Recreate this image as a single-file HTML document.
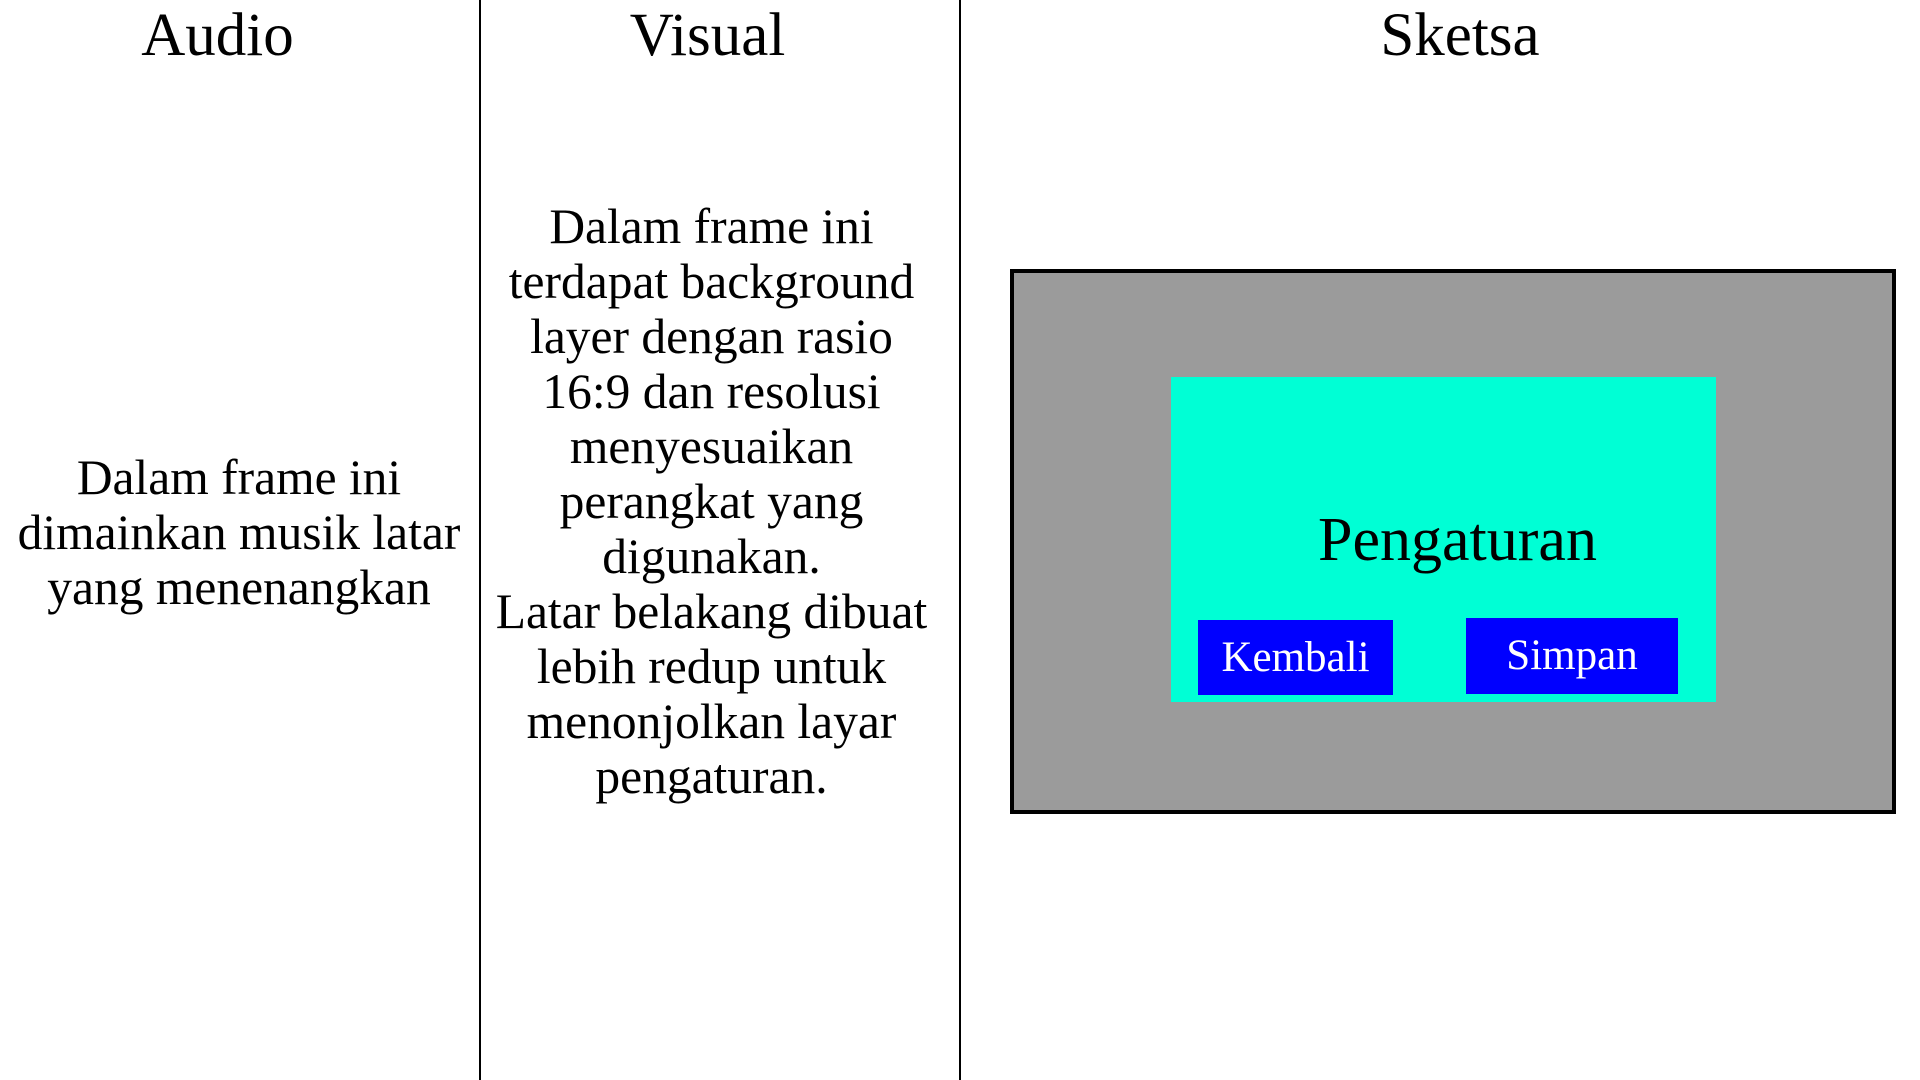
<!DOCTYPE html>
<html><head><meta charset="utf-8"><style>
body{margin:0;width:1920px;height:1080px;background:#fff;position:relative;overflow:hidden;font-family:"Liberation Serif",serif;color:#000}
.vl{position:absolute;top:0;width:2px;height:1080px;background:#000}
.h{position:absolute;top:0;font-size:61px;line-height:72px;text-align:center}
.t{position:absolute;font-size:49.5px;line-height:55px;text-align:center}
</style></head><body>
<div class="vl" style="left:479px"></div>
<div class="vl" style="left:959px"></div>
<div class="h" style="left:0;width:435px">Audio</div>
<div class="h" style="left:480px;width:455px">Visual</div>
<div class="h" style="left:1190px;width:540px">Sketsa</div>
<div class="t" style="left:0;width:478px;top:450px">Dalam frame ini<br>dimainkan musik latar<br>yang menenangkan</div>
<div class="t" style="left:481px;width:461px;top:199px">Dalam frame ini<br>terdapat background<br>layer dengan rasio<br>16:9 dan resolusi<br>menyesuaikan<br>perangkat yang<br>digunakan.<br>Latar belakang dibuat<br>lebih redup untuk<br>menonjolkan layar<br>pengaturan.</div>
<div style="position:absolute;left:1010px;top:269px;width:878px;height:537px;background:#9b9b9b;border:4px solid #000"></div>
<div style="position:absolute;left:1171px;top:377px;width:545px;height:325px;background:#00ffd5"></div>
<div style="position:absolute;left:1171px;top:505px;width:573px;text-align:center;font-size:62px;line-height:70px">Pengaturan</div>
<div style="position:absolute;left:1198px;top:620px;width:195px;height:75px;background:#0000ff;color:#fff;font-size:43px;line-height:75px;text-align:center">Kembali</div>
<div style="position:absolute;left:1466px;top:618px;width:212px;height:76px;background:#0000ff;color:#fff;font-size:43px;line-height:75px;text-align:center">Simpan</div>
</body></html>
